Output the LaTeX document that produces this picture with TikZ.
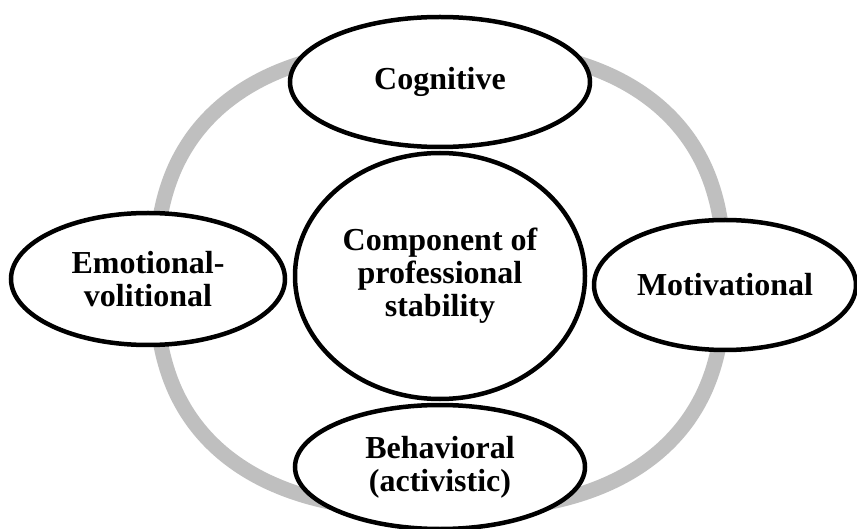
\documentclass[tikz,border=0pt]{standalone}
\usepackage{fontspec}
\setmainfont{Liberation Serif}
\usetikzlibrary{shapes.geometric}
\definecolor{ringgray}{RGB}{191,191,191}
\tikzset{
  comp/.style={ellipse, draw=black, line width=4.5pt, fill=white, inner sep=0pt,
    align=center, font=\bfseries\fontsize{32}{33}\selectfont},
}
\begin{document}
\begin{tikzpicture}[x=1pt,y=-1pt]
\useasboundingbox[fill=white] (0,0) rectangle (857,529);
% gray ring (superellipse)
\draw[ringgray, line width=15pt]
  plot[domain=0.5:360.5, samples=181, smooth cycle]
  ({440+284*sign(cos(\x))*abs(cos(\x))^0.8}, {279+232*sign(sin(\x))*abs(sin(\x))^0.8});
\node[comp, minimum width=300pt, minimum height=130pt] (cog) at (440,82) {Cognitive};
\node[comp, minimum width=290pt, minimum height=246pt] (core) at (440,276) {Component of\\professional\\stability};
\node[comp, minimum width=274pt, minimum height=132pt] (emo) at (148,279) {Emotional-\\volitional};
\node[comp, minimum width=262pt, minimum height=130pt] (mot) at (725,285) {Motivational};
\node[comp, minimum width=290pt, minimum height=124pt] (beh) at (440,467) {Behavioral\\(activistic)};
\end{tikzpicture}
\end{document}
